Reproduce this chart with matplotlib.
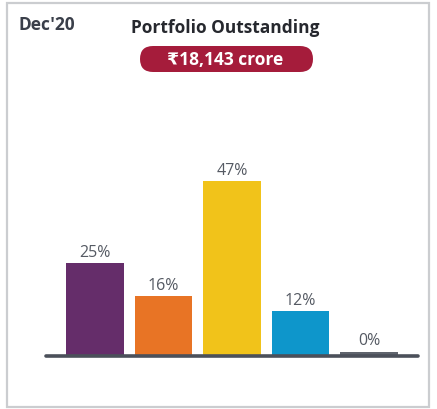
import matplotlib
matplotlib.use("Agg")
import matplotlib.pyplot as plt
from matplotlib.patches import Rectangle, FancyBboxPatch

plt.rcParams['font.family'] = ['Open Sans', 'DejaVu Sans']

# Data
categories = ["A", "B", "C", "D", "E"]
values = [25, 16, 47, 12, 1.2]
labels = ["25%", "16%", "47%", "12%", "0%"]
colors = ["#652d6a", "#e87425", "#f1c31a", "#0e96cb", "#5f646d"]
period = "Dec'20"
title = "Portfolio Outstanding"
total = "₹18,143 crore"

W, H = 437, 410
fig = plt.figure(figsize=(W / 100, H / 100), dpi=100)

def fx(px):
    return px / W

def fy(py):
    return 1 - py / H

# outer border
fig.patches.append(Rectangle((fx(7), fy(408)), fx(429) - fx(7), fy(4) - fy(408),
                             transform=fig.transFigure, fill=False,
                             edgecolor="#cbcdd0", linewidth=1.6))

# bar axes
left, right, bottom, top = 46, 418, 357, 171
ax = fig.add_axes([fx(left), fy(bottom), fx(right) - fx(left), fy(top) - fy(bottom)])
x = list(range(len(categories)))
bars = ax.bar(x, values, width=0.84, color=colors, zorder=2)
ax.set_xlim(-0.715, len(categories) - 1 + 0.715)
ax.set_ylim(0, 50)
base = ax.axhline(0, color="#4b505a", linewidth=2.6, zorder=3, solid_capstyle='round')
base.set_clip_on(False)
for b, lab in zip(bars, labels):
    ax.annotate(lab, (b.get_x() + b.get_width() / 2, b.get_height()),
                xytext=(0, 2.5), textcoords="offset points", ha="center", va="bottom",
                fontsize=11.5, color="#555a63")
ax.axis("off")

# texts
fig.text(fx(19), fy(25), period, fontsize=12.5, fontweight="bold", color="#3a3f4a",
         ha="left", va="center")
fig.text(fx(225), fy(28), title, fontsize=12.5, fontweight="bold", color="#26282e",
         ha="center", va="center")
fig.patches.append(FancyBboxPatch((1.40, (H - 73) / 100), 1.73, 0.26,
                                  boxstyle="round,pad=0,rounding_size=0.13",
                                  transform=fig.dpi_scale_trans, facecolor="#a51c3b",
                                  edgecolor="none"))
fig.text(fx(225), fy(60), total, fontsize=12.5, fontweight="bold", color="white",
         ha="center", va="center")

fig.savefig("out.png", dpi=100)
